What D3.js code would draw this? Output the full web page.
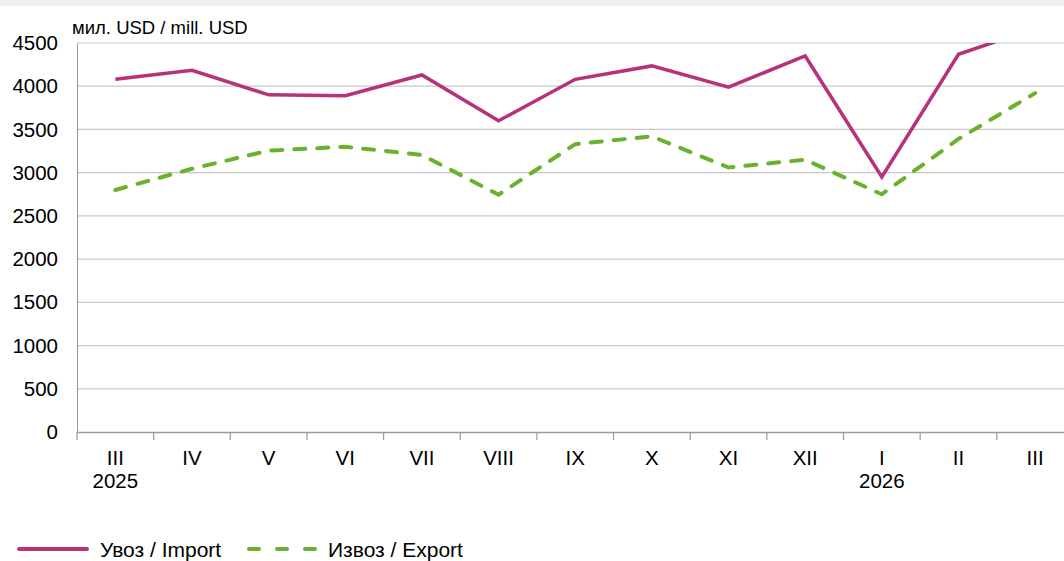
<!DOCTYPE html>
<html>
<head>
<meta charset="utf-8">
<script src="https://cdn.jsdelivr.net/npm/d3@7"></script>
<style>
  body { margin: 0; background: #fff; font-family: "Liberation Sans", Arial, sans-serif; }
</style>
</head>
<body>
<div id="chart"></div>
<script>
const months = ["III", "IV", "V", "VI", "VII", "VIII", "IX", "X", "XI", "XII", "I", "II", "III"];
const years = ["2025", "", "", "", "", "", "", "", "", "", "2026", "", ""];
const importVals = [4080, 4185, 3900, 3890, 4130, 3600, 4080, 4235, 3990, 4350, 2950, 4370, 4670];
const exportVals = [2800, 3045, 3255, 3300, 3205, 2745, 3330, 3420, 3060, 3150, 2750, 3390, 3920];
const yTicks = [0, 500, 1000, 1500, 2000, 2500, 3000, 3500, 4000, 4500];

const W = 1064, H = 561;
const margin = { top: 43, left: 77, bottom: 129 };
const step = 76.65;
const plotH = H - margin.top - margin.bottom;
const font = "Liberation Sans, Arial, sans-serif";

const svg = d3.select("#chart").append("svg")
    .attr("width", W).attr("height", H)
    .style("font-family", font);

svg.append("rect").attr("x", 0).attr("y", 0).attr("width", W).attr("height", 6).attr("fill", "#f0f0f0");

const x = d3.scaleBand()
    .domain(d3.range(months.length))
    .range([margin.left, margin.left + step * months.length]);

const y = d3.scaleLinear().domain([0, 4500]).range([margin.top + plotH, margin.top]);

svg.append("defs").append("clipPath").attr("id", "plot")
    .append("rect").attr("x", margin.left).attr("y", margin.top)
    .attr("width", W - margin.left).attr("height", plotH);

// grid
svg.append("g").selectAll("line").data(yTicks.filter(d => d > 0)).enter().append("line")
    .attr("x1", margin.left).attr("x2", W)
    .attr("y1", d => y(d)).attr("y2", d => y(d))
    .attr("stroke", "#c8c8c8").attr("stroke-width", 1.2);

// y axis
const yAxis = svg.append("g")
    .attr("transform", `translate(${margin.left},0)`)
    .call(d3.axisLeft(y).tickValues(yTicks).tickFormat(d3.format("d")).tickSize(0).tickPadding(19));
yAxis.select(".domain").attr("stroke", "#9a9a9a");
yAxis.selectAll("text").style("font-size", "20.5px").style("font-family", font).attr("fill", "#000");

// x axis
const xAxis = svg.append("g")
    .attr("transform", `translate(0,${y(0)})`)
    .call(d3.axisBottom(x).tickSize(0).tickFormat(i => months[i]));
xAxis.select(".domain").attr("stroke", "#9a9a9a").attr("stroke-width", 1.5);
xAxis.selectAll(".tick text").attr("y", 33).attr("dy", null)
    .style("font-size", "20.5px").style("font-family", font).attr("fill", "#000");
xAxis.selectAll(".tick").append("text")
    .attr("y", 56).attr("fill", "#000")
    .style("font-size", "20.5px").style("font-family", font)
    .text(i => years[i]);
xAxis.append("g").selectAll("line").data(d3.range(months.length + 1)).enter().append("line")
    .attr("x1", i => margin.left + i * step).attr("x2", i => margin.left + i * step)
    .attr("y1", 0).attr("y2", 8).attr("stroke", "#9a9a9a").attr("stroke-width", 1.2);

const cx = i => x(i) + x.bandwidth() / 2;

const line = d3.line().x((d, i) => cx(i)).y(d => y(d));

const lines = svg.append("g").attr("clip-path", "url(#plot)");
lines.append("path").datum(exportVals)
    .attr("d", line).attr("fill", "none")
    .attr("stroke", "#6ab22e").attr("stroke-width", 4)
    .attr("stroke-dasharray", "11,12").attr("stroke-linecap", "round");
lines.append("path").datum(importVals)
    .attr("d", line).attr("fill", "none")
    .attr("stroke", "#b8327b").attr("stroke-width", 3.5)
    .attr("stroke-linejoin", "miter");

// unit label
svg.append("text").attr("x", 72).attr("y", 34)
    .style("font-size", "18.5px").attr("fill", "#000")
    .text("мил. USD / mill. USD");

// legend
const legend = svg.append("g").attr("transform", "translate(0,549)");
legend.append("line").attr("x1", 19).attr("x2", 87).attr("y1", 0).attr("y2", 0)
    .attr("stroke", "#b8327b").attr("stroke-width", 4).attr("stroke-linecap", "round");
legend.append("text").attr("x", 100).attr("y", 7.5).style("font-size", "21px").text("Увоз / Import");
legend.append("line").attr("x1", 249).attr("x2", 317).attr("y1", 0).attr("y2", 0)
    .attr("stroke", "#6ab22e").attr("stroke-width", 4).attr("stroke-linecap", "round")
    .attr("stroke-dasharray", "10,18");
legend.append("text").attr("x", 328).attr("y", 7.5).style("font-size", "21px").text("Извоз / Export");
</script>
</body>
</html>
